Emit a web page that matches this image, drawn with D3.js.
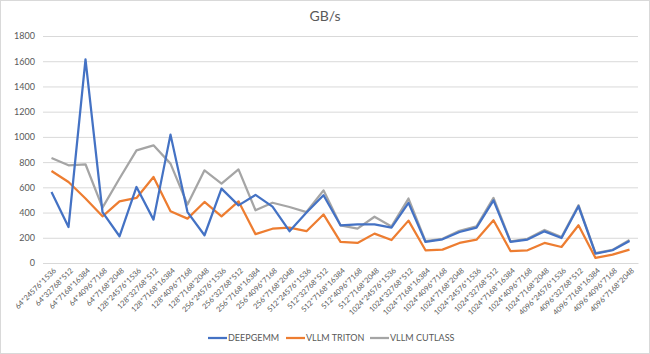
<!DOCTYPE html>
<html>
<head>
<meta charset="utf-8">
<script src="https://cdn.jsdelivr.net/npm/d3@7"></script>
<style>
  body { margin: 0; background: #fff; }
  text { font-family: Lato, "Open Sans", sans-serif; fill: #595959; }
</style>
</head>
<body>
<div id="chart"></div>
<script>
// Categories (M*N*K)
const labels = [
  "64*24576*1536", "64*32768*512", "64*7168*16384", "64*4096*7168", "64*7168*2048",
  "128*24576*1536", "128*32768*512", "128*7168*16384", "128*4096*7168", "128*7168*2048",
  "256*24576*1536", "256*32768*512", "256*7168*16384", "256*4096*7168", "256*7168*2048",
  "512*24576*1536", "512*32768*512", "512*7168*16384", "512*4096*7168", "512*7168*2048",
  "1024*24576*1536", "1024*32768*512", "1024*7168*16384", "1024*4096*7168", "1024*7168*2048",
  "1024*24576*1536", "1024*32768*512", "1024*7168*16384", "1024*4096*7168", "1024*7168*2048",
  "4096*24576*1536", "4096*32768*512", "4096*7168*16384", "4096*4096*7168", "4096*7168*2048"
];

const deepgemm = [563, 285, 1615, 404, 212, 603, 344, 1018, 404, 220,
  590, 457, 540, 447, 252, 400, 537, 299, 307, 307,
  280, 477, 167, 188, 246, 281, 497, 167, 186, 251,
  198, 450, 74, 101, 175];

const triton = [730, 642, 511, 370, 489, 516, 682, 410, 352, 484,
  370, 489, 229, 272, 281, 252, 385, 167, 159, 233,
  182, 336, 101, 106, 159, 185, 339, 95, 101, 159,
  127, 299, 40, 66, 106];

const cutlass = [833, 775, 783, 439, 670, 893, 933, 788, 463, 735,
  630, 742, 418, 478, 444, 404, 576, 299, 272, 367,
  290, 511, 173, 192, 255, 290, 516, 172, 192, 262,
  205, 458, 78, 104, 182];

const yTicks = [0, 200, 400, 600, 800, 1000, 1200, 1400, 1600, 1800];

const series = [
  {name: "DEEPGEMM", values: deepgemm, color: "#4472C4"},
  {name: "VLLM TRITON", values: triton, color: "#ED7D31"},
  {name: "VLLM CUTLASS", values: cutlass, color: "#A5A5A5"}
];

const W = 650, H = 354;
const plot = {left: 43, right: 638, top: 36, bottom: 263};

const svg = d3.select("#chart")
  .append("svg")
  .attr("width", W)
  .attr("height", H);

// Borde del gráfico
svg.append("rect")
  .attr("x", 0.5).attr("y", 0.5)
  .attr("width", W - 1).attr("height", H - 1)
  .attr("fill", "#fff")
  .attr("stroke", "#d9d9d9");

// Escalas
const x = d3.scaleBand()
  .domain(d3.range(labels.length))
  .range([plot.left, plot.right])
  .padding(0);

const y = d3.scaleLinear()
  .domain([0, 1800])
  .range([plot.bottom, plot.top]);

const cx = i => x(i) + x.bandwidth() / 2;

// Título
svg.append("text")
  .attr("x", 325)
  .attr("y", 21)
  .attr("text-anchor", "middle")
  .style("font-size", "14px")
  .text("GB/s");

// Rejilla y eje Y
const yAxis = svg.append("g")
  .attr("transform", `translate(${plot.left},0)`)
  .call(d3.axisLeft(y).tickValues(yTicks).tickFormat(d3.format("d"))
    .tickSize(-(plot.right - plot.left)).tickPadding(8));

yAxis.select(".domain").remove();
yAxis.selectAll(".tick line").attr("stroke", "#d9d9d9");
yAxis.selectAll(".tick text").style("font-size", "9px").attr("fill", "#595959");

// Eje X
const xAxis = svg.append("g")
  .attr("transform", `translate(0,${plot.bottom})`)
  .call(d3.axisBottom(x).tickFormat(i => labels[i]).tickSize(0));

xAxis.select(".domain").attr("stroke", "#d9d9d9");
xAxis.selectAll(".tick text")
  .style("font-size", "7.5px")
  .attr("fill", "#6b6b6b")
  .attr("text-anchor", "end")
  .attr("dx", 0)
  .attr("dy", 0)
  .attr("transform", "translate(3,6) rotate(-45)");

// Líneas
const line = d3.line()
  .x((d, i) => cx(i))
  .y(d => y(d));

[series[2], series[1], series[0]].forEach(s => {
  svg.append("path")
    .datum(s.values)
    .attr("fill", "none")
    .attr("stroke", s.color)
    .attr("stroke-width", 2.25)
    .attr("stroke-linejoin", "round")
    .attr("d", line);
});

// Leyenda
const legendX = [208, 286, 370];
const legend = svg.append("g");
series.forEach((s, i) => {
  const g = legend.append("g").attr("transform", `translate(${legendX[i]},338)`);
  g.append("line")
    .attr("x1", 0).attr("x2", 19)
    .attr("stroke", s.color)
    .attr("stroke-width", 2.25);
  g.append("text")
    .attr("x", 20)
    .attr("y", 3)
    .style("font-size", "9px")
    .text(s.name);
});
</script>
</body>
</html>
